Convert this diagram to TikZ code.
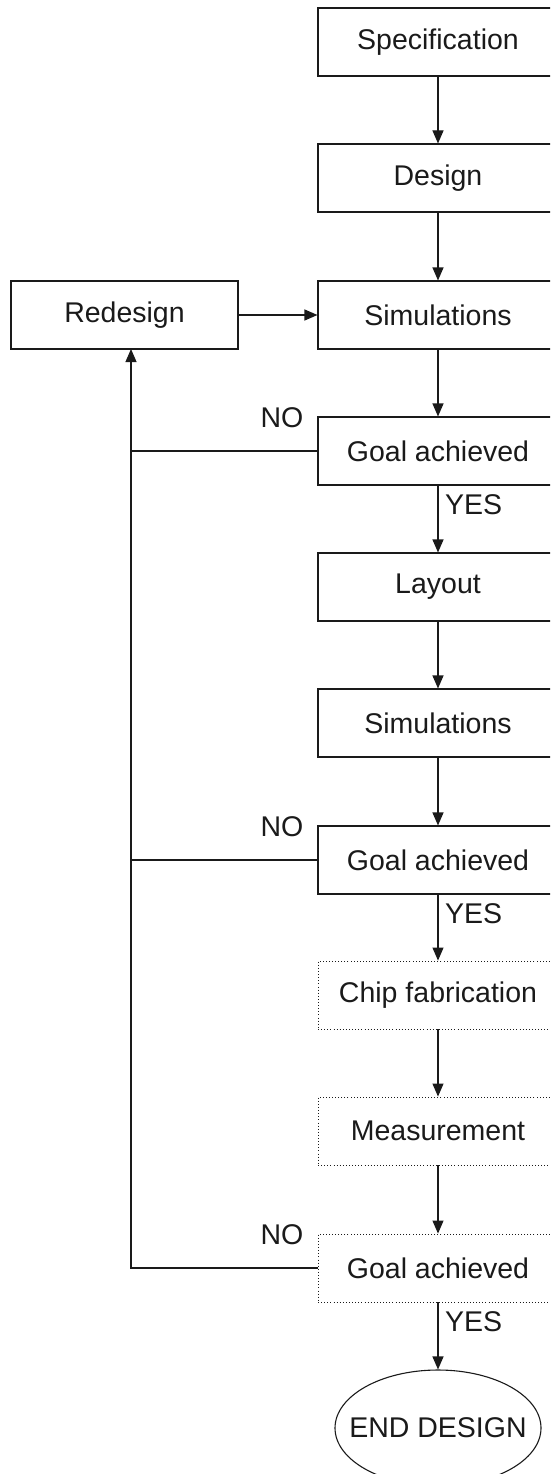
\documentclass[tikz,border=0pt]{standalone}
\usepackage{fontspec}
\setmainfont{Liberation Sans}
\usetikzlibrary{arrows.meta,shapes.geometric}
\definecolor{ink}{HTML}{1A1A1A}
\begin{document}
\begin{tikzpicture}[x=1pt,y=-1pt,
  every node/.style={font=\fontsize{28.5}{34}\selectfont, text=ink},
  solidbox/.style={draw=ink, line width=1.1pt, minimum width=240pt, minimum height=68pt, inner sep=0pt},
  dotbox/.style={draw=ink, line width=0.9pt, dash pattern=on 0.9pt off 2.2pt, minimum width=240pt, minimum height=68pt, inner sep=0pt},
  endell/.style={draw=ink, line width=1.1pt, ellipse, minimum width=206pt, minimum height=116pt, inner xsep=-29pt, inner ysep=0pt},
  conn/.style={draw=ink, line width=1.1pt},
  arr/.style={conn, -{Triangle[width=11pt,length=13pt]}},
  lbl/.style={inner sep=0pt}
]
\clip (0,0) rectangle (550,1474);
\useasboundingbox (0,0) rectangle (550,1474);

\node[solidbox] (spec) at (438,42) {Specification};
\node[solidbox] (des) at (438,178) {Design};
\node[solidbox] (sim1) at (438,315) {Simulations};
\node[solidbox] (g1) at (438,451) {Goal achieved};
\node[solidbox] (lay) at (438,587) {Layout};
\node[solidbox] (sim2) at (438,723) {Simulations};
\node[solidbox] (g2) at (438,860) {Goal achieved};
\node[dotbox] (chip) at (438,995) {Chip fabrication};
\node[dotbox] (meas) at (438,1131) {Measurement};
\node[dotbox] (g3) at (438,1268) {Goal achieved};
\node[endell] (end) at (438,1428) {END DESIGN};

\node[solidbox, minimum width=227pt] (red) at (124.5,315) {Redesign};
\coordinate (rb) at (131,349);

\draw[arr] (spec) -- (des);
\draw[arr] (des) -- (sim1);
\draw[arr] (sim1) -- (g1);
\draw[arr] (g1) -- (lay);
\draw[arr] (lay) -- (sim2);
\draw[arr] (sim2) -- (g2);
\draw[arr] (g2) -- (chip);
\draw[arr] (chip) -- (meas);
\draw[arr] (meas) -- (g3);
\draw[arr] (g3) -- (end);
\draw[arr] (red) -- (sim1);

\draw[arr] (g3.west) -| (rb);
\draw[conn] (g1.west) -- (g1.west -| rb);
\draw[conn] (g2.west) -- (g2.west -| rb);

\node[lbl] (no1) at (282,418) {NO};
\node[lbl] (no2) at (282,827) {NO};
\node[lbl] (no3) at (282,1235) {NO};
\node[lbl, anchor=west] (yes1) at (445,505) {YES};
\node[lbl, anchor=west] (yes2) at (445,914) {YES};
\node[lbl, anchor=west] (yes3) at (445,1322) {YES};
\end{tikzpicture}
\end{document}
